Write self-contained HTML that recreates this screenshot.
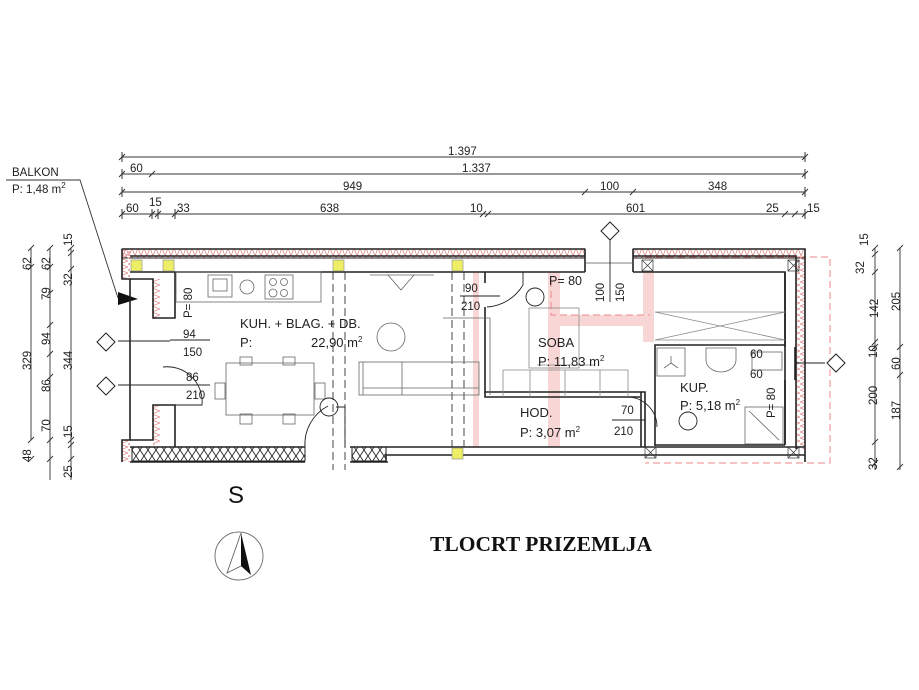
<!DOCTYPE html>
<html><head><meta charset="utf-8"><style>
html,body{margin:0;padding:0;background:#fff}
svg{display:block}
</style></head><body>
<svg width="919" height="690" viewBox="0 0 919 690" xmlns="http://www.w3.org/2000/svg" font-family="Liberation Sans, sans-serif">
<defs>
<pattern id="zig" width="6" height="8" patternUnits="userSpaceOnUse"><path d="M0 0L3 8L6 0" fill="none" stroke="#d88" stroke-width="0.8"/></pattern>
<pattern id="zigv" width="8" height="6" patternUnits="userSpaceOnUse"><path d="M0 0L8 3L0 6" fill="none" stroke="#d88" stroke-width="0.8"/></pattern>
<pattern id="xh" width="8" height="12" patternUnits="userSpaceOnUse"><path d="M0 0L8 12M8 0L0 12" stroke="#222" stroke-width="0.9"/></pattern>
</defs>
<g font-size="11.5" fill="#222">
<g stroke="#333" stroke-width="0.9">
<line x1="122" y1="157" x2="805" y2="157"/>
<line x1="122" y1="174" x2="805" y2="174"/>
<line x1="122" y1="192" x2="805" y2="192"/>
<line x1="122" y1="214" x2="805" y2="214"/>
<g stroke-width="1">
<path d="M119 160l6-6M802 160l6-6M119 177l6-6M149 177l6-6M802 177l6-6M119 195l6-6M582 195l6-6M630 195l6-6M802 195l6-6"/>
<path d="M119 217l6-6M149 217l6-6M155 217l6-6M172 217l6-6M480 217l6-6M485 217l6-6M782 217l6-6M792 217l6-6M802 217l6-6"/>
<path d="M122 152v10M805 152v10M122 169v10M805 169v10M122 187v10M805 187v10M122 209v10M805 209v10M152 209v10M175 209v10M158 209v10"/>
</g>
</g>
<text x="448" y="155">1.397</text>
<text x="130" y="172">60</text>
<text x="462" y="172">1.337</text>
<text x="343" y="190">949</text>
<text x="600" y="190">100</text>
<text x="708" y="190">348</text>
<text x="126" y="212">60</text>
<text x="149" y="206">15</text>
<text x="177" y="212">33</text>
<text x="320" y="212">638</text>
<text x="470" y="212">10</text>
<text x="626" y="212">601</text>
<text x="766" y="212">25</text>
<text x="807" y="212">15</text>

<text x="12" y="176">BALKON</text>
<text x="12" y="193">P: 1,48 m<tspan font-size="8" dy="-5">2</tspan></text>
<path d="M6 180H80L118 298" fill="none" stroke="#333" stroke-width="0.9"/>
<path d="M118 292L138 299L118 305Z" fill="#111"/>

<g fill="#f9d6d6">
<rect x="473" y="272" width="6" height="175"/>
<rect x="548" y="272" width="12" height="175"/>
<rect x="548" y="315" width="103" height="11"/>
<rect x="643" y="272" width="11" height="70"/>
</g>
<path d="M645 257H830V463H645" fill="none" stroke="#e88" stroke-dasharray="7 4" stroke-width="1"/>
<path d="M551 280V315H650" fill="none" stroke="#e88" stroke-dasharray="7 4" stroke-width="1"/>

<rect x="122" y="249" width="463" height="9" fill="url(#zig)" stroke="#222" stroke-width="1"/>
<rect x="633" y="249" width="172" height="9" fill="url(#zig)" stroke="#222" stroke-width="1"/>
<rect x="122" y="249" width="8" height="30" fill="url(#zigv)"/>
<rect x="796" y="257" width="9" height="192" fill="url(#zigv)"/>
<rect x="153" y="279" width="7" height="40" fill="url(#zigv)"/>
<rect x="153" y="405" width="7" height="40" fill="url(#zigv)"/>
<rect x="122" y="440" width="8" height="22" fill="url(#zigv)"/>
<g fill="none" stroke="#222" stroke-width="1.6">
<path d="M122 249H585M633 249H805V462M122 249V279H130V440H122V462"/>
<path d="M130 256H585M633 256H796V449"/>
<path d="M130 272H585M633 272H785V445"/>
<path d="M130 279H153V318H175V272M130 440H153V405H175V447"/>
<path d="M585 249V272M633 249V272"/>
<path d="M130 462H305M130 447H305"/>
<path d="M350 447H805M350 462H388"/>
<path d="M386 462V455H805"/>
<path d="M785 272V347M785 380V445M795 347V380"/>
</g>
<line x1="585" y1="263" x2="633" y2="263" stroke="#555" stroke-width="0.8"/>
<rect x="132" y="447" width="173" height="14" fill="url(#xh)" stroke="#222"/>
<rect x="352" y="447" width="34" height="14" fill="url(#xh)" stroke="#222"/>
<g fill="#ee6" stroke="#888" stroke-width="0.6">
<rect x="131" y="260" width="11" height="11"/><rect x="163" y="260" width="11" height="11"/>
<rect x="333" y="260" width="11" height="11"/><rect x="452" y="260" width="11" height="11"/>
<rect x="452" y="448" width="11" height="11"/>
</g>
<g fill="none" stroke="#333" stroke-width="0.7">
<rect x="642" y="260" width="11" height="11"/><path d="M642 260l11 11M653 260l-11 11"/>
<rect x="788" y="260" width="11" height="11"/><path d="M788 260l11 11M799 260l-11 11"/>
<rect x="645" y="447" width="11" height="11"/><path d="M645 447l11 11M656 447l-11 11"/>
<rect x="788" y="447" width="11" height="11"/><path d="M788 447l11 11M799 447l-11 11"/>
</g>

<g fill="none" stroke="#222" stroke-width="1.6">
<path d="M485 272V283M485 307V392H645V395"/>
<path d="M645 395V447M655 446V345H785M655 445H785"/>
<path d="M641 392V447"/>
<path d="M485 392V397H640"/>
</g>

<g stroke="#333" stroke-width="0.9" stroke-dasharray="8 4">
<line x1="333" y1="272" x2="333" y2="470"/><line x1="345" y1="272" x2="345" y2="470"/>
<line x1="452" y1="272" x2="452" y2="447"/><line x1="464" y1="272" x2="464" y2="447"/>
</g>

<g fill="none" stroke="#666" stroke-width="0.8">
<rect x="176" y="272" width="145" height="30"/>
<rect x="208" y="275" width="24" height="22"/><rect x="213" y="279" width="14" height="12"/>
<circle cx="247" cy="287" r="7"/>
<rect x="265" y="275" width="28" height="24"/><circle cx="273" cy="282" r="3.5"/><circle cx="284" cy="282" r="3.5"/><circle cx="273" cy="293" r="4"/><circle cx="284" cy="293" r="3.5"/>
<rect x="226" y="363" width="88" height="52"/>
<rect x="240" y="357" width="12" height="8"/><rect x="283" y="357" width="12" height="8"/>
<rect x="240" y="414" width="12" height="10"/><rect x="283" y="414" width="12" height="10"/>
<rect x="215" y="383" width="10" height="16"/><rect x="315" y="383" width="10" height="16"/>
<circle cx="391" cy="337" r="14"/>
<path d="M370 275H434M388 275L401 290L414 275"/>
<rect x="359" y="362" width="120" height="33"/><path d="M363 362V395M402 362V395M443 318H490V395M363 388H479"/>
<rect x="529" y="308" width="50" height="60" stroke="#888"/>
<path d="M503 370H628V397M503 370V397M530 370V397M565 370V397M600 370V397M537 365H595" stroke="#888"/>
<path d="M655 312H785M655 340H785M655 312L785 340M655 340L785 312" stroke="#888"/>
<rect x="657" y="348" width="28" height="28"/><path d="M671 356V363L664 368M671 363L678 368"/>
<path d="M706 348H736V360A15 12 0 0 1 706 360Z"/>
<rect x="752" y="352" width="30" height="18"/>
<rect x="745" y="407" width="38" height="37"/><path d="M749 411L779 440"/>
</g>

<g fill="none" stroke="#222" stroke-width="0.9">
<path d="M163 367A35 35 0 0 1 202 405H175"/>
<path d="M305 447A43 43 0 0 1 328 406"/>
<circle cx="329" cy="407" r="9"/>
<path d="M336 407H345V447"/>
<path d="M487 307A45 45 0 0 0 523 285V272"/>
<circle cx="535" cy="297" r="9"/>
<path d="M625 397A30 30 0 0 1 657 427"/>
<circle cx="688" cy="421" r="9"/>
<line x1="170" y1="340" x2="210" y2="340"/>
<line x1="170" y1="385" x2="210" y2="385"/>
<line x1="460" y1="296" x2="500" y2="296"/>
<line x1="612" y1="420" x2="645" y2="420"/>
<line x1="610" y1="232" x2="610" y2="302"/>
<line x1="795" y1="363" x2="825" y2="363"/>
<line x1="118" y1="341" x2="170" y2="341"/><line x1="118" y1="385" x2="170" y2="385"/>
</g>
<g fill="#fff" stroke="#222" stroke-width="1">
<path d="M106 333l9 9-9 9-9-9Z"/><path d="M106 377l9 9-9 9-9-9Z"/>
<path d="M610 222l9 9-9 9-9-9Z"/><path d="M836 354l9 9-9 9-9-9Z"/>
</g>

<text x="183" y="338">94</text><text x="183" y="356">150</text>
<text x="186" y="381">86</text><text x="186" y="399">210</text>
<text transform="translate(192,318) rotate(-90)">P= 80</text>
<text x="240" y="328" font-size="13">KUH. + BLAG. + DB.</text>
<text x="240" y="347" font-size="13">P:</text>
<text x="311" y="347" font-size="13">22,90 m<tspan font-size="8" dy="-5">2</tspan></text>
<text x="465" y="292">90</text><text x="461" y="310">210</text>
<text x="549" y="285" font-size="12.5">P= 80</text>
<text transform="translate(604,302) rotate(-90)">100</text>
<text transform="translate(624,302) rotate(-90)">150</text>
<text x="538" y="347" font-size="13">SOBA</text>
<text x="538" y="366" font-size="13">P: 11,83 m<tspan font-size="8" dy="-5">2</tspan></text>
<text x="520" y="417" font-size="13">HOD.</text>
<text x="520" y="437" font-size="13">P: 3,07 m<tspan font-size="8" dy="-5">2</tspan></text>
<text x="621" y="414">70</text><text x="614" y="435">210</text>
<text x="680" y="392" font-size="13">KUP.</text>
<text x="680" y="410" font-size="13">P: 5,18 m<tspan font-size="8" dy="-5">2</tspan></text>
<text x="750" y="358">60</text><text x="750" y="378">60</text>
<text transform="translate(775,418) rotate(-90)">P= 80</text>

<g stroke="#333" stroke-width="0.9">
<line x1="31" y1="248" x2="31" y2="440"/>
<line x1="50" y1="248" x2="50" y2="480"/>
<line x1="71" y1="248" x2="71" y2="480"/>
<path d="M28 251l6-6M28 270l6-6M28 443l6-6M28 462l6-6M47 251l6-6M47 270l6-6M47 296l6-6M47 328l6-6M47 357l6-6M47 380l6-6M47 443l6-6M47 462l6-6M68 251l6-6M68 256l6-6M68 272l6-6M68 443l6-6M68 448l6-6M68 462l6-6"/>
</g>
<text transform="translate(31,270) rotate(-90)">62</text>
<text transform="translate(31,370) rotate(-90)">329</text>
<text transform="translate(31,462) rotate(-90)">48</text>
<text transform="translate(50,270) rotate(-90)">62</text>
<text transform="translate(50,300) rotate(-90)">79</text>
<text transform="translate(50,345) rotate(-90)">94</text>
<text transform="translate(50,392) rotate(-90)">86</text>
<text transform="translate(50,432) rotate(-90)">70</text>
<text transform="translate(72,478) rotate(-90)">25</text>
<text transform="translate(72,246) rotate(-90)">15</text>
<text transform="translate(72,286) rotate(-90)">32</text>
<text transform="translate(72,370) rotate(-90)">344</text>
<text transform="translate(72,438) rotate(-90)">15</text>
<g stroke="#333" stroke-width="0.9">
<line x1="875" y1="248" x2="875" y2="470"/>
<line x1="900" y1="248" x2="900" y2="470"/>
<path d="M872 251l6-6M872 257l6-6M872 275l6-6M872 345l6-6M872 350l6-6M872 445l6-6M872 466l6-6M897 251l6-6M897 350l6-6M897 378l6-6M897 470l6-6"/>
</g>
<text transform="translate(868,246) rotate(-90)">15</text>
<text transform="translate(864,274) rotate(-90)">32</text>
<text transform="translate(878,318) rotate(-90)">142</text>
<text transform="translate(877,358) rotate(-90)">10</text>
<text transform="translate(877,405) rotate(-90)">200</text>
<text transform="translate(877,470) rotate(-90)">32</text>
<text transform="translate(900,311) rotate(-90)">205</text>
<text transform="translate(900,370) rotate(-90)">60</text>
<text transform="translate(900,420) rotate(-90)">187</text>

<text x="228" y="503" font-size="24" fill="#111">S</text>
<circle cx="239" cy="556" r="24" fill="none" stroke="#777" stroke-width="1"/>
<path d="M241 533L227 573L241 566" fill="none" stroke="#555" stroke-width="0.8"/>
<path d="M241 533L241 566L251 575Z" fill="#111"/>
<text x="430" y="551" style="font-family:'Liberation Serif',serif;font-weight:bold" font-size="21.5" textLength="222" fill="#111">TLOCRT PRIZEMLJA</text>
</g>
</svg>
</body></html>
